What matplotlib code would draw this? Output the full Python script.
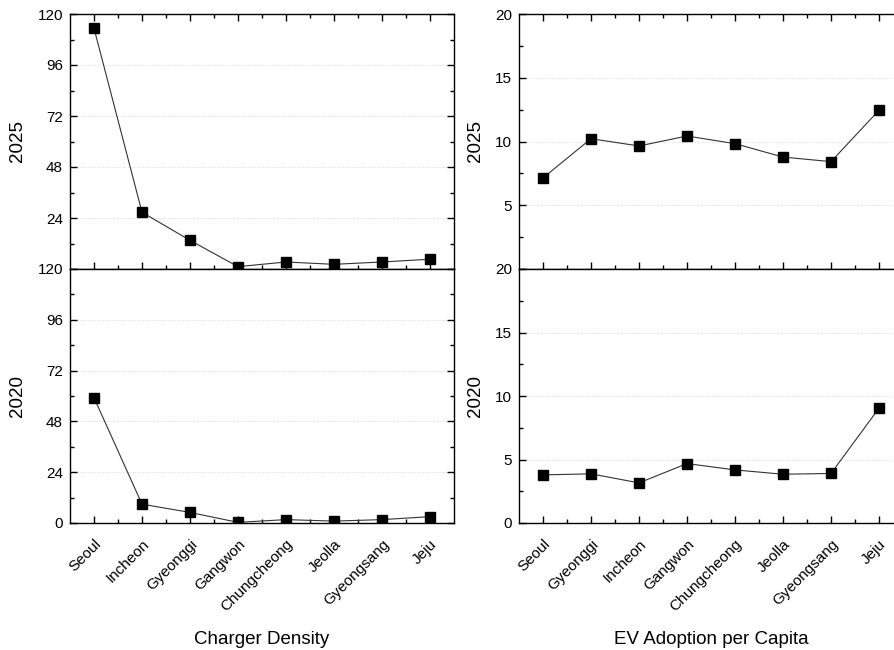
import matplotlib
matplotlib.use("Agg")
import matplotlib.pyplot as plt
from matplotlib.ticker import MultipleLocator, FixedLocator, NullFormatter

plt.rcParams['font.family'] = ['Liberation Sans', 'DejaVu Sans']

charger_regions = ["Seoul", "Incheon", "Gyeonggi", "Gangwon", "Chungcheong", "Jeolla", "Gyeongsang", "Jeju"]
charger_2025 = [113.3, 26.7, 13.5, 1.1, 3.3, 2.2, 3.3, 4.6]
charger_2020 = [59.2, 8.9, 5.0, 0.3, 1.6, 0.9, 1.6, 3.0]

ev_regions = ["Seoul", "Gyeonggi", "Incheon", "Gangwon", "Chungcheong", "Jeolla", "Gyeongsang", "Jeju"]
ev_2025 = [7.14, 10.22, 9.65, 10.43, 9.83, 8.78, 8.42, 12.45]
ev_2020 = [3.79, 3.87, 3.16, 4.68, 4.18, 3.84, 3.90, 9.04]

W, H = 895, 650
fig = plt.figure(figsize=(W / 100, H / 100), dpi=100)

def box(x0, y0, x1, y1):
    return [x0 / W, 1 - y1 / H, (x1 - x0) / W, (y1 - y0) / H]

def style(ax, cats, vals, ymax, major, ylabel, top, show_x):
    n = len(cats)
    x = list(range(n))
    ax.plot(x, vals, color="#333333", lw=0.8, marker="s", ms=7.5,
            mfc="black", mec="black", zorder=3)
    ax.set_xlim(-0.5, n - 0.5)
    ax.set_ylim(0, ymax)
    ax.yaxis.set_major_locator(MultipleLocator(major))
    ax.yaxis.set_minor_locator(MultipleLocator(major / 2))
    ax.xaxis.set_major_locator(FixedLocator(x))
    ax.xaxis.set_minor_locator(FixedLocator([i + 0.5 for i in range(n - 1)]))
    ax.grid(axis="y", which="major", color="#cccccc", ls=(0, (1, 2)), lw=0.6)
    for s in ax.spines.values():
        s.set_linewidth(1.0)
    ax.tick_params(which="both", direction="in", right=True, top=top,
                   labelsize=11, width=1.0)
    ax.tick_params(which="major", length=5)
    ax.tick_params(which="minor", length=3)
    ax.tick_params(axis="y", which="major", pad=5)
    ax.tick_params(axis="x", which="major", pad=10)
    ax.set_ylabel(ylabel, fontsize=13.5, labelpad=8)
    if show_x:
        ax.set_xticklabels(cats, rotation=45, ha="right", rotation_mode="anchor", fontsize=11)
    else:
        ax.xaxis.set_major_formatter(NullFormatter())
    if top:
        ticks = [t for t in range(0, ymax + 1, major)]
        ax.set_yticks(ticks)
        ax.set_yticklabels([""] + [str(t) for t in ticks[1:]])

# left column
axL1 = fig.add_axes(box(70, 14, 454, 269))
axL2 = fig.add_axes(box(70, 269, 454, 523))
style(axL1, charger_regions, charger_2025, 120, 24, "2025", True, False)
style(axL2, charger_regions, charger_2020, 120, 24, "2020", False, True)
axL2.set_xlabel("Charger Density", fontsize=13.5, labelpad=12)

# right column (extends past the right edge as in the reference)
axR1 = fig.add_axes(box(519, 14, 903, 269))
axR2 = fig.add_axes(box(519, 269, 903, 523))
style(axR1, ev_regions, ev_2025, 20, 5, "2025", True, False)
style(axR2, ev_regions, ev_2020, 20, 5, "2020", False, True)
axR2.set_xlabel("EV Adoption per Capita", fontsize=13.5, labelpad=12)

fig.savefig("out.png", dpi=100)
